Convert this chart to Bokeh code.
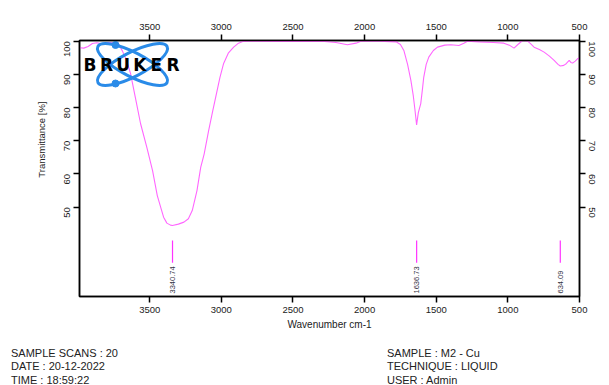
import math
from bokeh.plotting import figure
from bokeh.models import Range1d, LinearAxis, FixedTicker, Title, Div
from bokeh.layouts import column
from bokeh.core.properties import value
from bokeh.embed import file_html
from bokeh.resources import INLINE

# ---- data ----
wavenumber = [3990, 3960, 3930, 3900, 3870, 3830, 3800, 3760, 3720, 3690, 3660, 3634,
              3600, 3564, 3520, 3480, 3447, 3420, 3403, 3380, 3355, 3341, 3300, 3261,
              3230, 3203, 3170, 3144, 3120, 3089, 3060, 3040, 3010, 2984, 2950, 2914,
              2880, 2851, 2800, 2600, 2300, 2200, 2120, 2060, 2026, 1900, 1780, 1750,
              1726, 1700, 1677, 1660, 1649, 1637, 1625, 1608, 1595, 1587, 1570, 1552,
              1520, 1491, 1440, 1398, 1342, 1307, 1282, 1200, 1100, 1028, 990, 957,
              930, 897, 862, 840, 817, 780, 747, 710, 677, 650, 634, 610, 593, 572,
              560, 548, 530, 514, 500]
transmittance = [98.0, 97.9, 98.4, 99.3, 99.5, 99.2, 99.6, 99.5, 99.4, 97.0, 94.0, 90.3,
                 83.0, 75.2, 68.0, 61.0, 53.5, 49.5, 47.0, 45.2, 44.6, 44.5, 44.9, 45.5,
                 46.5, 49.0, 55.0, 62.0, 66.0, 73.0, 79.0, 83.0, 89.0, 93.3, 96.5, 98.2,
                 99.4, 99.9, 100.0, 99.9, 100.0, 99.6, 98.9, 99.4, 100.0, 100.0, 99.8, 99.0,
                 97.2, 93.0, 88.2, 83.5, 79.5, 74.8, 78.5, 81.2, 86.0, 89.2, 93.0, 95.2,
                 97.2, 98.2, 98.8, 98.9, 98.7, 99.4, 100.0, 99.8, 99.6, 99.4, 98.8, 97.9,
                 99.0, 100.2, 100.0, 99.2, 98.2, 97.5, 96.7, 95.5, 94.2, 93.0, 92.5, 92.7,
                 93.2, 94.2, 93.6, 93.4, 94.0, 94.7, 95.0]

peak_positions = [3340.74, 1636.73, 634.09]
peak_labels = ["3340.74", "1636.73", "634.09"]
peak_line_top = 40.0
peak_line_bottom = 33.3
peak_label_y = 24.0

x_ticks = [3500, 3000, 2500, 2000, 1500, 1000, 500]
y_ticks = [50, 60, 70, 80, 90, 100]

info_left = ["SAMPLE SCANS : 20", "DATE : 20-12-2022", "TIME : 18:59:22"]
info_right = ["SAMPLE : M2 - Cu", "TECHNIQUE : LIQUID", "USER : Admin"]

# ---- layout ----
X0, X1 = 3990, 500
Y0, Y1 = 23.1, 100.2
FW, FH = 500, 256
BL, BR, BT, BB = 79, 29, 40, 44
W = BL + FW + BR
H_MAIN = BT + FH + BB
H_FOOT = 385 - H_MAIN
FONT = "Liberation Sans"
TXT = "#222222"

def dx(px):  # page px -> data x
    return X0 + (px - BL) * (X1 - X0) / FW

def dy(py):  # page py -> data y
    return Y1 - (py - BT) * (Y1 - Y0) / FH

p = figure(frame_width=FW, frame_height=FH, x_range=Range1d(X0, X1), y_range=Range1d(Y0, Y1),
           output_backend="svg", toolbar_location=None, x_axis_location=None,
           y_axis_location=None, min_border_left=BL, min_border_right=BR,
           min_border_top=BT, min_border_bottom=BB)
p.grid.visible = False
p.outline_line_color = "black"
p.outline_line_width = 1.5
p.background_fill_color = "white"
p.border_fill_color = "white"

def style_axis(ax, orient=None):
    ax.axis_line_color = "black"
    ax.axis_line_width = 1.5
    ax.major_tick_line_color = "black"
    ax.major_tick_line_width = 1.5
    ax.major_tick_out = 6
    ax.major_tick_in = 0
    ax.minor_tick_line_color = None
    ax.major_label_text_font = FONT
    ax.major_label_text_font_size = "9.5px"
    ax.major_label_text_color = TXT
    ax.axis_label_text_font = FONT
    ax.axis_label_text_font_size = "10px"
    ax.axis_label_text_font_style = "normal"
    ax.axis_label_text_color = TXT
    if orient is not None:
        ax.major_label_orientation = orient

bottom = LinearAxis(ticker=FixedTicker(ticks=x_ticks), axis_label="Wavenumber cm-1")
style_axis(bottom)
bottom.major_label_standoff = 4
bottom.axis_label_standoff = 3
top = LinearAxis(ticker=FixedTicker(ticks=x_ticks))
style_axis(top)
top.major_label_standoff = 5
left = LinearAxis(ticker=FixedTicker(ticks=y_ticks))
style_axis(left, math.pi / 2)
left.major_label_standoff = 6
right = LinearAxis(ticker=FixedTicker(ticks=y_ticks))
style_axis(right, -math.pi / 2)
right.major_label_standoff = 6
p.add_layout(bottom, "below")
p.add_layout(top, "above")
p.add_layout(left, "left")
p.add_layout(right, "right")

# y axis title, anchored near the top end of the left side
p.add_layout(Title(text="Transmittance [%]", align="right", offset=61, standoff=24,
                   text_font=FONT, text_font_size="9.5px", text_font_style="normal",
                   text_color=TXT), "left")

# spectrum
p.line(wavenumber, transmittance, line_color="#ff66ff", line_width=1.1)

# peak markers
p.segment(x0=peak_positions, y0=[peak_line_top] * 3, x1=peak_positions,
          y1=[peak_line_bottom] * 3, line_color="#ff33ff", line_width=1.2)
p.text(x=peak_positions, y=[peak_label_y] * 3, text=peak_labels, angle=math.pi / 2,
       text_align="left", text_baseline="middle", text_font=value(FONT),
       text_font_size="7.5px", text_color="#333344")

# Bruker logo (decoration)
lx, ly = dx(132), dy(64)
p.ellipse(x=[lx, lx], y=[ly, ly], width=78, height=24, angle=[0.48, -0.48],
          width_units="screen", height_units="screen", fill_alpha=0,
          line_color="#2a8be8", line_width=3)
p.scatter(x=[dx(115), dx(115)], y=[dy(44.5), dy(83)], size=7, color="#2a8be8")
letters = list("BRUKER")
p.text(x=[dx(89.5 + 16.6 * i) for i in range(6)], y=[dy(64.5)] * 6, text=letters,
       text_align="center", text_baseline="middle", text_font=value("DejaVu Sans"),
       text_font_style="bold", text_font_size="17px", text_color="black")

# footer info
line_tops = [7.0, 20.3, 33.6]
parts = []
for col_x, texts in ((11, info_left), (387, info_right)):
    for t, top_px in zip(texts, line_tops):
        parts.append(
            f'<div style="position:absolute;left:{col_x}px;top:{top_px}px;'
            f'line-height:13px;white-space:nowrap;">{t}</div>')
html = (f'<div style="position:relative;width:{W}px;height:{H_FOOT}px;overflow:hidden;'
        f"font-family:'{FONT}';font-size:11px;color:{TXT};\">" + "".join(parts) + "</div>")
foot = Div(text=html, width=W, height=H_FOOT, margin=(0, 0, 0, 0))

layout = column(p, foot, spacing=0)
open("out.html", "w").write(file_html(layout, INLINE))
